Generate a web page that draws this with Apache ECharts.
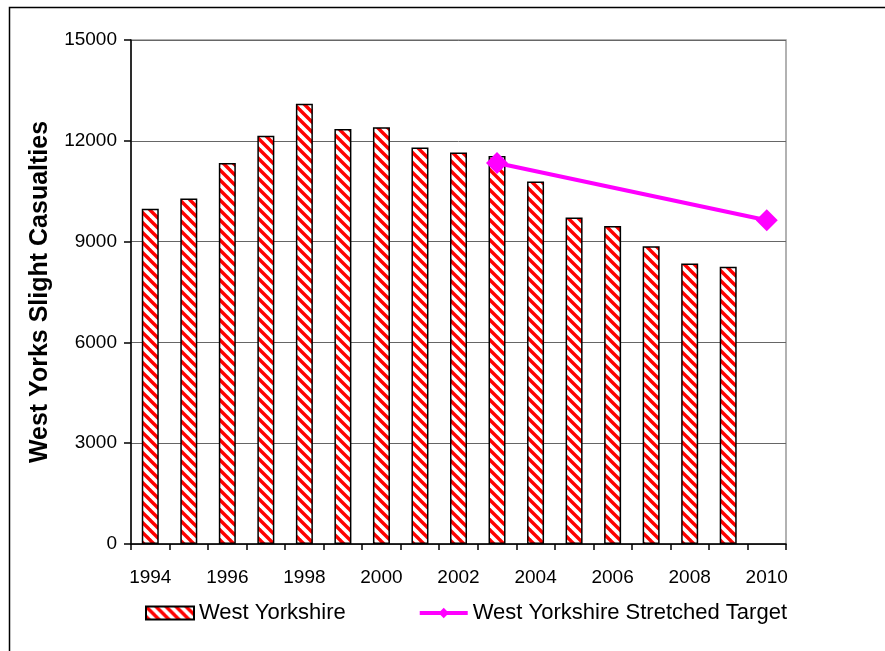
<!DOCTYPE html>
<html>
<head>
<meta charset="utf-8">
<script src="https://cdn.jsdelivr.net/npm/echarts@6/dist/echarts.min.js"></script>
<style>
html, body { margin: 0; padding: 0; background: #fff; }
#main { width: 885px; height: 651px; }
</style>
</head>
<body>
<div id="main"></div>
<script>
// data
var years = ['1994', '1995', '1996', '1997', '1998', '1999', '2000', '2001', '2002',
             '2003', '2004', '2005', '2006', '2007', '2008', '2009', '2010'];
var westYorkshire = [9980, 10280, 11340, 12150, 13100, 12350, 12400, 11800, 11650,
                     11550, 10790, 9715, 9465, 8860, 8345, 8255, null];
var stretchedTarget = [null, null, null, null, null, null, null, null, null,
                       11340, null, null, null, null, null, null, 9635];
var yTicks = [0, 3000, 6000, 9000, 12000, 15000];

// red / white diagonal hatch, like the excel fill
function hatch() {
    var c = document.createElement('canvas');
    c.width = 10;
    c.height = 10;
    var ctx = c.getContext('2d');
    ctx.fillStyle = '#ffffff';
    ctx.fillRect(0, 0, 10, 10);
    ctx.strokeStyle = '#ff0000';
    ctx.lineWidth = 3.4;
    [-10, 0, 10].forEach(function (k) {
        ctx.beginPath();
        ctx.moveTo(-2, k - 2);
        ctx.lineTo(12, k + 12);
        ctx.stroke();
    });
    return c;
}

var dom = document.getElementById('main');
var myChart = echarts.init(dom);
var font = 'Arial, "Liberation Sans", sans-serif';

option = {
    animation: false,
    textStyle: { fontFamily: font },
    graphic: [
        {
            type: 'rect',
            left: 7, top: 5,
            shape: { width: 900, height: 700 },
            style: { fill: 'none', stroke: '#000', lineWidth: 1.5 },
            silent: true
        }
    ],
    grid: {
        left: 131,
        right: 99,
        top: 40,
        bottom: 107,
        show: true,
        borderColor: '#999',
        borderWidth: 1.5
    },
    legend: {
        top: 597,
        left: 140,
        itemGap: 72,
        itemWidth: 48,
        itemHeight: 13,
        textStyle: { fontSize: 22, color: '#000', fontFamily: font },
        data: [
            { name: 'West Yorkshire', icon: 'rect' },
            { name: 'West Yorkshire Stretched Target', lineStyle: { width: 4 } }
        ]
    },
    xAxis: {
        type: 'category',
        data: years,
        boundaryGap: true,
        axisLine: { lineStyle: { color: '#000', width: 1.5 } },
        axisTick: { show: true, interval: 0, length: 6, lineStyle: { color: '#000', width: 1.5 } },
        axisLabel: { interval: 1, margin: 24, fontSize: 19, color: '#000', fontFamily: font },
        splitLine: { show: false }
    },
    yAxis: {
        type: 'value',
        min: 0,
        max: 15000,
        interval: 3000,
        name: 'West Yorks Slight Casualties',
        nameLocation: 'middle',
        nameGap: 78,
        nameTextStyle: { fontSize: 25, fontWeight: 'bold', color: '#000', fontFamily: font },
        axisLine: { show: true, lineStyle: { color: '#000', width: 1.5 } },
        axisTick: { show: true, length: 7, lineStyle: { color: '#000', width: 1.5 } },
        axisLabel: {
            margin: 14, fontSize: 19, color: '#000', fontFamily: font,
            formatter: function (v) { return yTicks.indexOf(v) >= 0 ? String(v) : ''; }
        },
        splitLine: { show: true, lineStyle: { color: '#666', width: 1 } }
    },
    series: [
        {
            name: 'West Yorkshire',
            type: 'bar',
            barWidth: 17,
            itemStyle: {
                color: { image: hatch(), repeat: 'repeat' },
                borderColor: '#000',
                borderWidth: 1.5
            },
            data: westYorkshire
        },
        {
            name: 'West Yorkshire Stretched Target',
            type: 'line',
            connectNulls: true,
            symbol: 'diamond',
            symbolSize: 22,
            itemStyle: { color: '#ff00ff' },
            lineStyle: { color: '#ff00ff', width: 4 },
            data: stretchedTarget
        }
    ]
};
if (option && typeof option === "object") {
    myChart.setOption(option, true);
}
</script>
</body>
</html>
